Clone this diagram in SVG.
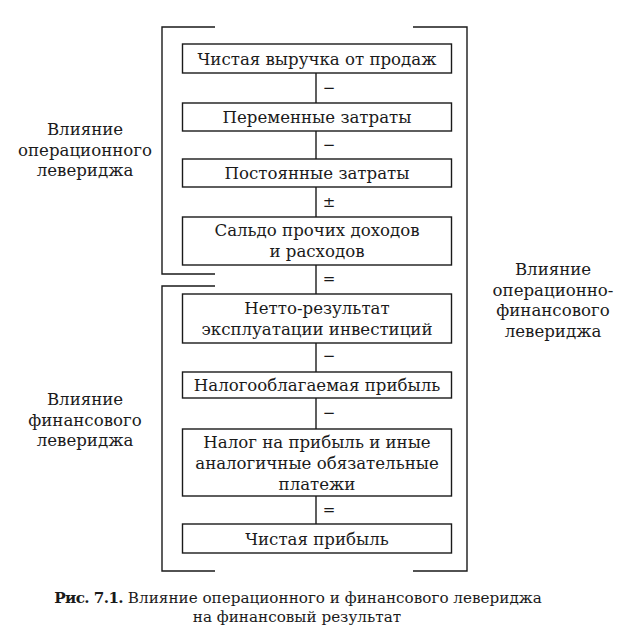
<svg xmlns="http://www.w3.org/2000/svg" width="629" height="637" viewBox="0 0 629 637">
<style>
  .box { fill: #ffffff; stroke: #1a1a1a; stroke-width: 1.4; }
  .ln { fill: none; stroke: #1a1a1a; stroke-width: 1.4; }
  .t { font-family: "DejaVu Serif", "Liberation Serif", serif; font-size: 16.6px; fill: #1a1a1a; text-anchor: middle; }
  .op { font-family: "DejaVu Serif", "Liberation Serif", serif; font-size: 15px; fill: #1a1a1a; text-anchor: middle; }
  .cap { font-family: "DejaVu Serif", "Liberation Serif", serif; font-size: 15.2px; fill: #1a1a1a; text-anchor: middle; }
</style>
<rect width="629" height="637" fill="#ffffff"/>

<g id="brackets">
  <polyline class="ln" points="215,27 162,27 162,274 215,274"/>
  <polyline class="ln" points="215,286 162,286 162,571 215,571"/>
  <polyline class="ln" points="413,27 467,27 467,571 413,571"/>
</g>

<g id="connectors">
  <line class="ln" x1="316" y1="73" x2="316" y2="103"/>
  <line class="ln" x1="316" y1="131" x2="316" y2="159"/>
  <line class="ln" x1="316" y1="187" x2="316" y2="217"/>
  <line class="ln" x1="316" y1="265" x2="316" y2="294"/>
  <line class="ln" x1="316" y1="343" x2="316" y2="372"/>
  <line class="ln" x1="316" y1="398" x2="316" y2="429"/>
  <line class="ln" x1="316" y1="496" x2="316" y2="524"/>
  <text class="op" x="329" y="93">−</text>
  <text class="op" x="329" y="150">−</text>
  <text class="op" x="329" y="207">±</text>
  <text class="op" x="329" y="284">=</text>
  <text class="op" x="329" y="361">−</text>
  <text class="op" x="329" y="418">−</text>
  <text class="op" x="329" y="515">=</text>
</g>

<g id="n1">
  <rect class="box" x="182.5" y="44" width="269" height="29"/>
  <text class="t" x="317" y="64.5">Чистая выручка от продаж</text>
</g>
<g id="n2">
  <rect class="box" x="182.5" y="103" width="269" height="28"/>
  <text class="t" x="317" y="123">Переменные затраты</text>
</g>
<g id="n3">
  <rect class="box" x="182.5" y="159" width="269" height="28"/>
  <text class="t" x="317" y="179">Постоянные затраты</text>
</g>
<g id="n4">
  <rect class="box" x="182.5" y="217" width="269" height="48"/>
  <text class="t" x="317" y="236">Сальдо прочих доходов</text>
  <text class="t" x="317" y="257">и расходов</text>
</g>
<g id="n5">
  <rect class="box" x="182.5" y="294" width="269" height="49"/>
  <text class="t" x="317" y="313.5">Нетто-результат</text>
  <text class="t" x="317" y="334.5">эксплуатации инвестиций</text>
</g>
<g id="n6">
  <rect class="box" x="182.5" y="372" width="269" height="26"/>
  <text class="t" x="317" y="391">Налогооблагаемая прибыль</text>
</g>
<g id="n7">
  <rect class="box" x="182.5" y="429" width="269" height="67"/>
  <text class="t" x="317" y="447.5">Налог на прибыль и иные</text>
  <text class="t" x="317" y="468.5">аналогичные обязательные</text>
  <text class="t" x="317" y="489.5">платежи</text>
</g>
<g id="n8">
  <rect class="box" x="182.5" y="524" width="269" height="29"/>
  <text class="t" x="317" y="544.5">Чистая прибыль</text>
</g>

<g id="label-operating">
  <text class="t" x="85" y="135">Влияние</text>
  <text class="t" x="85" y="155.5">операционного</text>
  <text class="t" x="85" y="176">левериджа</text>
</g>
<g id="label-financial">
  <text class="t" x="85" y="405">Влияние</text>
  <text class="t" x="85" y="425.5">финансового</text>
  <text class="t" x="85" y="446">левериджа</text>
</g>
<g id="label-combined">
  <text class="t" x="553" y="275">Влияние</text>
  <text class="t" x="553" y="295.5">операционно-</text>
  <text class="t" x="553" y="316">финансового</text>
  <text class="t" x="553" y="337">левериджа</text>
</g>

<g id="caption">
  <text class="cap" x="298" y="603"><tspan font-weight="bold" letter-spacing="-0.6">Рис. 7.1.</tspan> Влияние операционного и финансового левериджа</text>
  <text class="cap" x="297" y="622" font-size="16px">на финансовый результат</text>
</g>
</svg>
